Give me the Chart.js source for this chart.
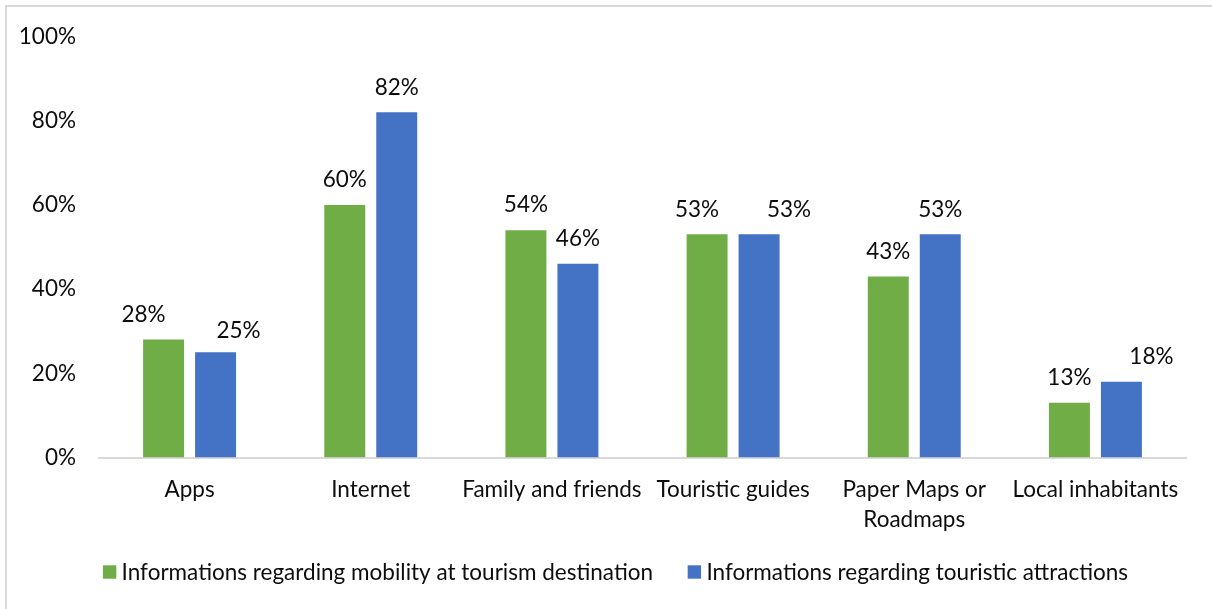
<!DOCTYPE html>
<html>
<head>
<meta charset="utf-8">
<script src="https://cdn.jsdelivr.net/npm/chart.js@4/dist/chart.umd.min.js"></script>
<style>
  html,body{margin:0;padding:0;background:#fff;}
  #wrap{width:1212px;height:609px;position:relative;}
</style>
</head>
<body>
<div id="wrap"><canvas id="grafico"></canvas></div>
<script>
const categorias = ["Apps","Internet","Family and friends","Touristic guides",["Paper Maps or","Roadmaps"],"Local inhabitants"];
const movilidad  = [28,60,54,53,43,13];
const atracciones = [25,82,46,53,53,18];
const nombres = ["Informations regarding mobility at tourism destination","Informations regarding touristic attractions"];
const ticksY = [0,20,40,60,80,100];

/* ---------- estilo ---------- */
const FUENTE = "Lato, 'Open Sans', sans-serif";
const TAM = 22.5;
const TXT = "#0d0d0d";
const VERDE = "#70AD47", AZUL = "#4472C4", GRIS = "#D9D9D9";

// desplazamiento manual de algunas etiquetas de valor (px)
const dxEtiq = [[-20,0,0,-10,0,0],[23,0,0,30,0,30]];
const dyEtiq = [[0,0,0,0,0,0],[3,0,0,0,0,0]];

/* ---------- marco gris arriba/izquierda ---------- */
const marco = {
  id:"marco",
  beforeDraw(c){
    const ctx=c.ctx; ctx.save();
    ctx.strokeStyle=GRIS; ctx.lineWidth=2;
    ctx.beginPath(); ctx.moveTo(6,609); ctx.lineTo(6,6); ctx.lineTo(1212,6); ctx.stroke();
    ctx.restore();
  }
};

/* ---------- etiquetas sobre las barras ---------- */
const etiquetas = {
  id:"etiquetas",
  afterDatasetsDraw(c){
    const ctx=c.ctx; ctx.save();
    ctx.font=`${TAM}px ${FUENTE}`; ctx.fillStyle=TXT;
    ctx.textAlign="center"; ctx.textBaseline="middle";
    c.data.datasets.forEach((ds,d)=>{
      c.getDatasetMeta(d).data.forEach((bar,i)=>{
        ctx.fillText(ds.data[i]+"%", bar.x+dxEtiq[d][i], bar.y-25+dyEtiq[d][i]);
      });
    });
    ctx.restore();
  }
};

/* ---------- leyenda abajo ---------- */
const leyenda = {
  id:"leyenda",
  afterDraw(c){
    const ctx=c.ctx; ctx.save();
    ctx.font=`${TAM}px ${FUENTE}`; ctx.fillStyle=TXT; ctx.textBaseline="middle";
    const caja=13.4, sep=5.3, hueco=34.6, yc=572;
    const items=c.data.datasets.map(ds=>({txt:ds.label,col:ds.backgroundColor,w:ctx.measureText(ds.label).width}));
    const total=items.reduce((s,it)=>s+caja+sep+it.w,0)+hueco*(items.length-1);
    let x=615.5-total/2;
    items.forEach(it=>{
      ctx.fillStyle=it.col; ctx.fillRect(x,yc-caja/2,caja,caja);
      ctx.fillStyle=TXT; ctx.fillText(it.txt,x+caja+sep,yc+1);
      x+=caja+sep+it.w+hueco;
    });
    ctx.restore();
  }
};

new Chart(document.getElementById("grafico"),{
  type:"bar",
  data:{
    labels:categorias,
    datasets:[
      {label:nombres[0],data:movilidad,backgroundColor:VERDE},
      {label:nombres[1],data:atracciones,backgroundColor:AZUL}
    ]
  },
  options:{
    responsive:true, maintainAspectRatio:false, animation:false,
    layout:{padding:{top:33.5,right:26,bottom:0,left:0}},
    categoryPercentage:0.574, barPercentage:0.788,
    plugins:{legend:{display:false},tooltip:{enabled:false}},
    scales:{
      x:{
        grid:{display:true,drawOnChartArea:false,drawTicks:false},
        border:{display:true,color:GRIS,width:2},
        ticks:{color:TXT,padding:18,font:{family:FUENTE,size:TAM,lineHeight:1.3},maxRotation:0,autoSkip:false},
        afterFit(s){ s.height=151.5; }
      },
      y:{
        min:0,max:100,
        afterBuildTicks(s){ s.ticks=ticksY.map(v=>({value:v})); },
        grid:{display:false,drawTicks:false},
        border:{display:false},
        ticks:{color:TXT,padding:23,font:{family:FUENTE,size:TAM},callback:v=>v+"%"},
        afterFit(s){ s.width=99; }
      }
    }
  },
  plugins:[marco,etiquetas,leyenda]
});
</script>
</body>
</html>
